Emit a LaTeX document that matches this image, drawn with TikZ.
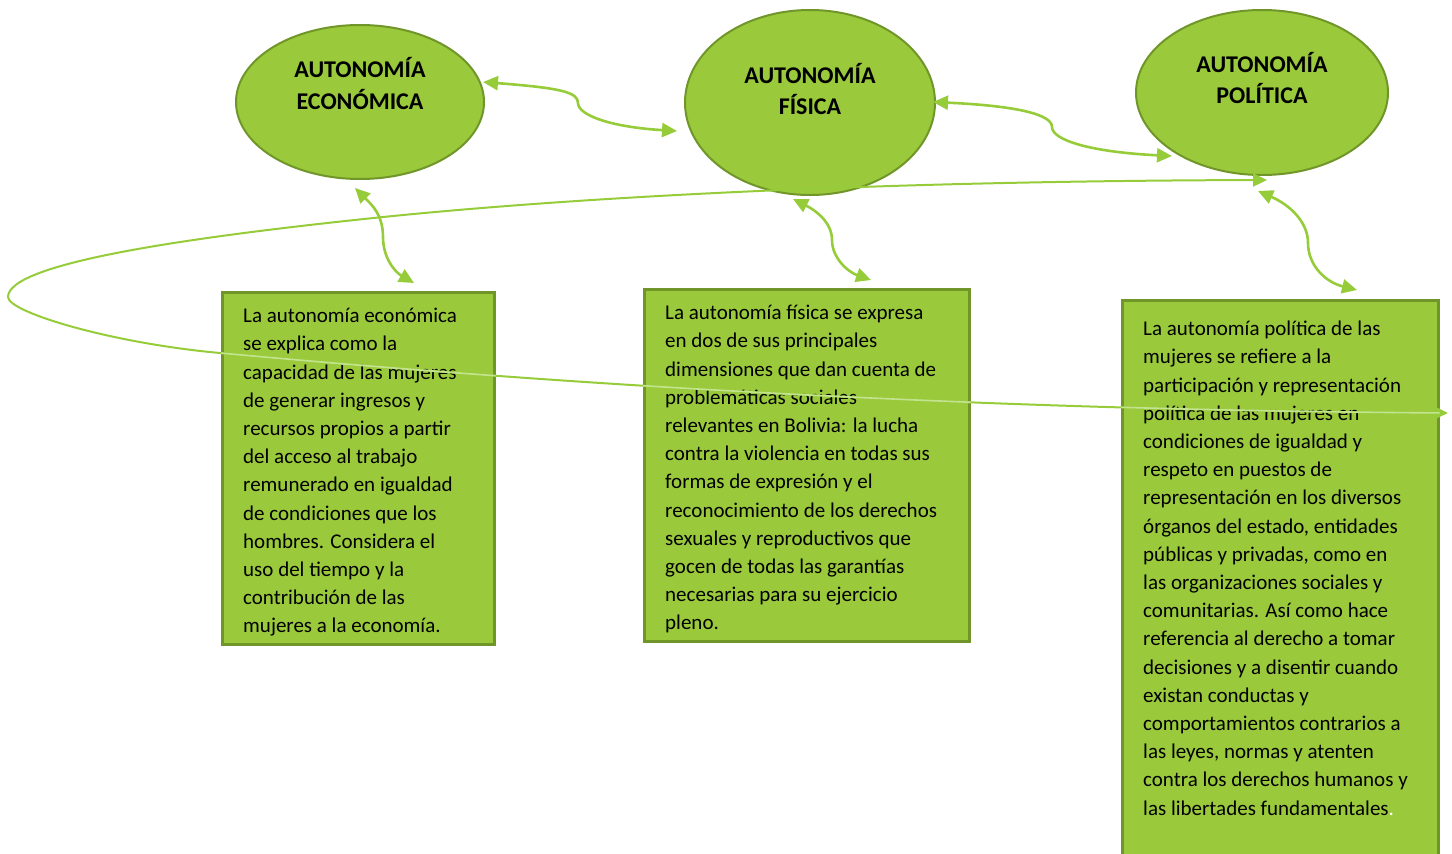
\documentclass[tikz,border=0pt]{standalone}
\usepackage{fontspec}
\setmainfont{Carlito}
\usetikzlibrary{arrows.meta,shapes.geometric,calc}
\definecolor{leaf}{RGB}{154,202,60}
\definecolor{leafedge}{RGB}{112,150,42}
\definecolor{linkgreen}{RGB}{150,204,58}
\definecolor{paleline}{RGB}{205,232,160}
\begin{document}
\begin{tikzpicture}[x=1pt,y=-1pt,
  topic/.style={ellipse, draw=leafedge, line width=2pt, fill=leaf, inner sep=0pt},
  card/.style={rectangle, draw=leafedge, line width=2.5pt, fill=leaf, inner sep=0pt, anchor=north west},
  heading/.style={font=\bfseries\fontsize{24}{31.5}\selectfont, align=center, inner sep=0pt},
  blurb/.style={font=\fontsize{21}{28.2}\selectfont, align=left, inner sep=0pt, anchor=north west},
  link/.style={draw=linkgreen, line width=2.6pt, {Triangle[length=15pt,width=14pt]}-{Triangle[length=15pt,width=14pt]}},
  longlink/.style={draw=linkgreen, line width=2pt, {Triangle[length=14pt,width=13pt]}-{Triangle[length=14pt,width=13pt]}}
]
\useasboundingbox (0,0) rectangle (1452,854);
\clip (0,0) rectangle (1452,854);

% the three dimensions of autonomy
\node[topic, minimum width=248pt, minimum height=154pt] (e1) at (360,102) {};
\node[topic, minimum width=250pt, minimum height=185pt] (e2) at (810,102.5) {};
\node[topic, minimum width=252pt, minimum height=165pt] (e3) at (1262,92.5) {};
\node[heading] (h1) at (360,83.5) {AUTONOMÍA\\ECONÓMICA};
\node[heading] (h2) at (810,89) {AUTONOMÍA\\FÍSICA};
\node[heading] (h3) at (1262,78) {AUTONOMÍA\\POLÍTICA};

% description boxes
\node[card, minimum width=272pt, minimum height=352pt] (b1) at (221,291) {};
\node[card, minimum width=325pt, minimum height=352pt] (b2) at (643,288) {};
\node[card, minimum width=316pt, minimum height=580pt] (b3) at (1121,299) {};

\node[blurb] (t1) at ($(b1.north west)+(22,17)$) {La autonomía económica\\se explica como la\\capacidad de las mujeres\\de generar ingresos y\\recursos propios a partir\\del acceso al trabajo\\remunerado en igualdad\\de condiciones que los\\hombres. Considera el\\uso del tiempo y la\\contribución de las\\mujeres a la economía.};
\node[blurb] (t2) at ($(b2.north west)+(22,17)$) {La autonomía física se expresa\\en dos de sus principales\\dimensiones que dan cuenta de\\problemáticas sociales\\relevantes en Bolivia: la lucha\\contra la violencia en todas sus\\formas de expresión y el\\reconocimiento de los derechos\\sexuales y reproductivos que\\gocen de todas las garantías\\necesarias para su ejercicio\\pleno.};
\node[blurb] (t3) at ($(b3.north west)+(22,22)$) {La autonomía política de las\\mujeres se refiere a la\\participación y representación\\política de las mujeres en\\condiciones de igualdad y\\respeto en puestos de\\representación en los diversos\\órganos del estado, entidades\\públicas y privadas, como en\\las organizaciones sociales y\\comunitarias. Así como hace\\referencia al derecho a tomar\\decisiones y a disentir cuando\\existan conductas y\\comportamientos contrarios a\\las leyes, normas y atenten\\contra los derechos humanos y\\las libertades fundamentales\textcolor{white}{.}};

% links between the ellipses
\draw[link] ($(e1.center)+(123,-20)$) .. controls (560,88) and (578,92) .. (578,103)
  .. controls (578,115) and (610,127) .. ($(e2.center)+(-133,28.5)$);
\draw[link] ($(e2.center)+(123,-0.5)$) .. controls (1020,106) and (1052,115) .. (1052,127)
  .. controls (1052,140) and (1090,152) .. ($(e3.center)+(-90,63.5)$);

% links from each ellipse to its box
\draw[link] ($(e1.south)+(-5,8)$) .. controls (372,205) and (383,215) .. (383,237)
  .. controls (383,258) and (395,272) .. ($(b1.north west)+(193,-8)$);
\draw[link] ($(e2.south)+(-17,3)$) .. controls (815,210) and (832,222) .. (832,240)
  .. controls (832,258) and (848,272) .. ($(b2.north west)+(228,-8)$);
\draw[link] ($(e3.south)+(-4,15)$) .. controls (1290,205) and (1308,222) .. (1308,243)
  .. controls (1308,265) and (1325,282) .. ($(b3.north west)+(236,-9)$);

% long loop from the political ellipse across all boxes
\coordinate (loopend) at (1448,413);
\draw[longlink] ($(e3.south)+(5,4)$) .. controls (900,181) and (600,195) .. (383,217)
  .. controls (200,236) and (8,262) .. (8,297)
  .. controls (8,312) and (110,343) .. (220,353)
  .. controls (600,388) and (1000,410) .. (loopend);
% where the loop crosses the boxes it shows as a pale stroke
\begin{scope}
  \clip (b1.north west) rectangle (b1.south east)
        (b2.north west) rectangle (b2.south east)
        (b3.north west) rectangle (b3.south east);
  \draw[paleline, line width=1.6pt, draw opacity=0.85] (220,353)
    .. controls (600,388) and (1000,410) .. (loopend);
\end{scope}
\end{tikzpicture}
\end{document}
